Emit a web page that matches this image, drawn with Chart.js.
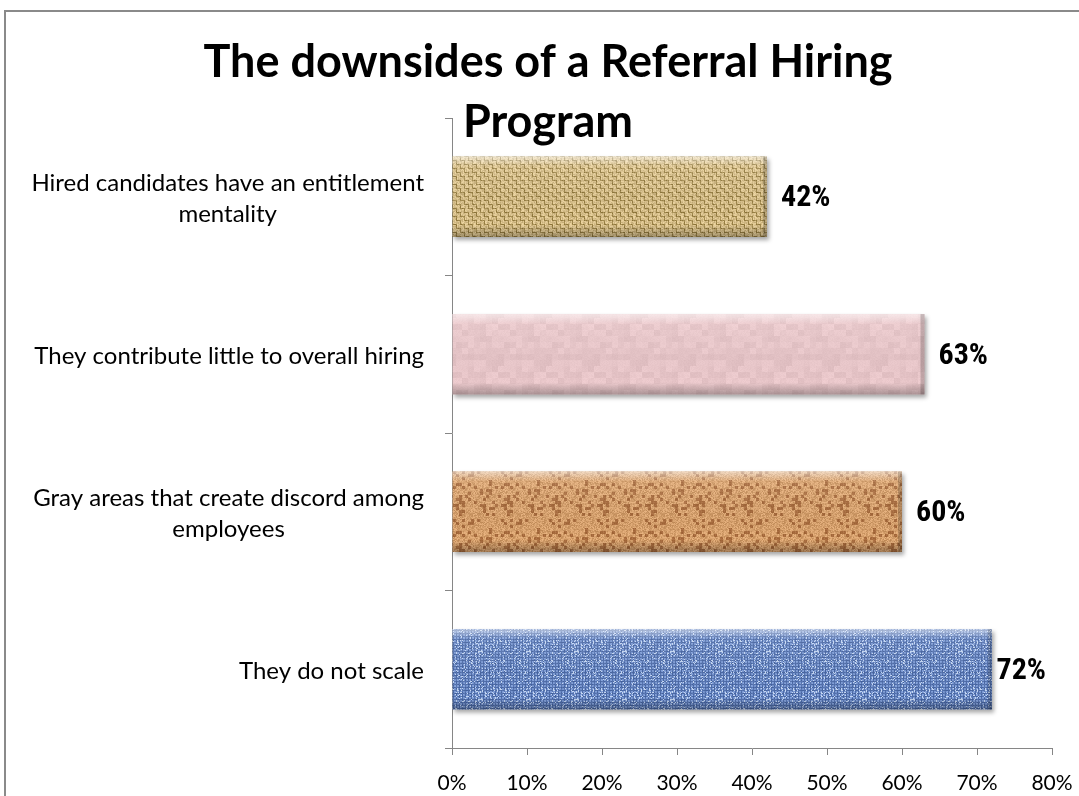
<!DOCTYPE html>
<html lang="en">
<head>
  <meta charset="UTF-8" />
  <title>The downsides of a Referral Hiring Program</title>
  <script src="https://cdn.jsdelivr.net/npm/chart.js"></script>
  <style>
    html, body { margin: 0; padding: 0; background: #fff; overflow: hidden; }
    canvas { display: block; }
  </style>
</head>
<body>
  <canvas id="grafico" width="1079" height="796"></canvas>

  <script>
    // data
    const categorias = [
      ['Hired candidates have an entitlement', 'mentality'],
      ['They contribute little to overall hiring'],
      ['Gray areas that create discord among', 'employees'],
      ['They do not scale']
    ];
    const valores = [42, 63, 60, 72];
    const ticksX = [0, 10, 20, 30, 40, 50, 60, 70, 80];
    const titulo = ['The downsides of a Referral Hiring', 'Program'];

    const fuente = "Lato, 'Open Sans', sans-serif";
    const fuenteNum = "'Liberation Sans Narrow', 'Arial Narrow', 'Roboto Condensed', 'Liberation Sans', sans-serif";

    // deterministic hash noise for the fabric textures
    function ruido(x, y, s) {
      const v = Math.sin(x * 12.9898 + y * 78.233 + s * 37.719) * 43758.5453;
      return v - Math.floor(v);
    }

    function textura(w, h, fn) {
      const c = document.createElement('canvas');
      c.width = w; c.height = h;
      const cx = c.getContext('2d');
      const img = cx.createImageData(w, h);
      for (let y = 0; y < h; y++) {
        for (let x = 0; x < w; x++) {
          const [r, g, b] = fn(x, y);
          const i = (y * w + x) * 4;
          img.data[i] = Math.max(0, Math.min(255, r));
          img.data[i + 1] = Math.max(0, Math.min(255, g));
          img.data[i + 2] = Math.max(0, Math.min(255, b));
          img.data[i + 3] = 255;
        }
      }
      cx.putImageData(img, 0, 0);
      return document.getElementById('grafico').getContext('2d').createPattern(c, 'repeat');
    }

    const arpillera = textura(48, 48, (x, y) => {
      const cx = Math.floor(x / 4), cy = Math.floor(y / 4);
      let d;
      if ((cx + cy) % 2 === 0) d = (x % 4 === 0) ? -50 : 14;
      else d = (y % 4 === 0) ? -50 : 8;
      const n = ruido(x, y, 1) * 40 - 20;
      return [206 + d + n, 182 + d + n, 128 + d * 1.1 + n];
    });

    const rosa = textura(48, 48, (x, y) => {
      const n = ruido(Math.floor(x / 6), Math.floor(y / 6), 2) * 14 - 7 + ruido(x, y, 3) * 6 - 3;
      return [232 + n, 198 + n, 201 + n];
    });

    const corcho = textura(48, 48, (x, y) => {
      const n = ruido(x, y, 4) * 44 - 22;
      if (ruido(Math.floor(x / 3), Math.floor(y / 3), 5) > 0.82) return [168 + n * 0.5, 108 + n * 0.5, 62 + n * 0.5];
      return [214 + n, 160 + n, 108 + n];
    });

    const mezclilla = textura(48, 48, (x, y) => {
      const n = ruido(x, y, 6);
      if (n > 0.88) return [196, 214, 242];
      if (x % 3 === 0 || y % 3 === 0) return [66 + n * 30, 96 + n * 30, 156 + n * 30];
      return [112 + n * 30, 142 + n * 30, 200 + n * 30];
    });

    const fondos = [arpillera, rosa, corcho, mezclilla];

    // page border, title, bevel, shadow, value labels, wrapped category labels
    const decorado = {
      id: 'decorado',
      beforeDraw(chart) {
        const ctx = chart.ctx;
        ctx.save();
        ctx.strokeStyle = '#8a8a8a';
        ctx.lineWidth = 2;
        ctx.strokeRect(5, 11, 2000, 2000);
        ctx.restore();
      },
      beforeDatasetsDraw(chart) {
        const ctx = chart.ctx;
        ctx.save();
        ctx.shadowColor = 'rgba(0,0,0,0.35)';
        ctx.shadowOffsetX = 2;
        ctx.shadowOffsetY = 3;
        ctx.shadowBlur = 4;
      },
      afterDatasetsDraw(chart) {
        const ctx = chart.ctx;
        ctx.restore();
        const meta = chart.getDatasetMeta(0);
        const area = chart.chartArea;
        meta.data.forEach((bar, i) => {
          const p = bar.getProps(['x', 'y', 'base', 'height'], true);
          const top = p.y - p.height / 2, left = p.base, w = p.x - p.base, h = p.height;
          ctx.save();
          const g = ctx.createLinearGradient(0, top, 0, top + h);
          g.addColorStop(0, 'rgba(255,255,255,0.55)');
          g.addColorStop(0.12, 'rgba(255,255,255,0.08)');
          g.addColorStop(0.85, 'rgba(0,0,0,0)');
          g.addColorStop(1, 'rgba(0,0,0,0.28)');
          ctx.fillStyle = g;
          ctx.fillRect(left, top, w, h);
          ctx.fillStyle = 'rgba(0,0,0,0.18)';
          ctx.fillRect(p.x - 4, top, 4, h);
          ctx.restore();

          ctx.save();
          ctx.font = 'bold 30px ' + fuenteNum;
          ctx.fillStyle = '#000';
          ctx.textBaseline = 'middle';
          const txt = valores[i] + '%';
          const tw = ctx.measureText(txt).width;
          const lx = Math.min(p.x + 14, area.right - 6 - tw);
          ctx.fillText(txt, lx, p.y + 2);
          ctx.restore();
        });

        const yScale = chart.scales.y;
        ctx.save();
        ctx.font = '24px ' + fuente;
        ctx.fillStyle = '#000';
        ctx.textBaseline = 'middle';
        ctx.textAlign = 'center';
        const lh = 31;
        categorias.forEach((lineas, i) => {
          const cy = yScale.getPixelForTick(i);
          const ancho = Math.max(...lineas.map(l => ctx.measureText(l).width));
          const centro = area.left - 28 - ancho / 2;
          lineas.forEach((l, k) => {
            ctx.fillText(l, centro, cy + (k - (lineas.length - 1) / 2) * lh + 2);
          });
        });
        ctx.restore();
      },
      afterDraw(chart) {
        const ctx = chart.ctx;
        ctx.save();
        ctx.font = 'bold 45px ' + fuente;
        ctx.fillStyle = '#000';
        ctx.textAlign = 'center';
        ctx.textBaseline = 'middle';
        titulo.forEach((l, k) => ctx.fillText(l, 548, 62 + k * 60));
        ctx.restore();
      }
    };

    new Chart(document.getElementById('grafico').getContext('2d'), {
      type: 'bar',
      data: {
        labels: categorias,
        datasets: [{
          data: valores,
          backgroundColor: fondos,
          borderWidth: 0,
          barPercentage: 0.51,
          categoryPercentage: 1
        }]
      },
      options: {
        indexAxis: 'y',
        responsive: false,
        animation: false,
        devicePixelRatio: 1,
        layout: { padding: { left: 0, right: 27, top: 118, bottom: 0 } },
        plugins: {
          legend: { display: false },
          tooltip: { enabled: false },
          title: { display: false }
        },
        scales: {
          x: {
            min: 0,
            max: 80,
            afterBuildTicks(scale) { scale.ticks = ticksX.map(v => ({ value: v })); },
            afterFit(scale) {
              scale.height = 48;
              scale.paddingLeft = 0;
              scale.paddingRight = 0;
            },
            border: { color: '#868686', width: 1 },
            grid: { drawOnChartArea: false, drawTicks: true, tickLength: 7, color: '#868686' },
            ticks: {
              color: '#000',
              padding: 16,
              font: { family: fuente, size: 21 },
              callback: v => v + '%'
            }
          },
          y: {
            afterFit(scale) {
              scale.width = 452;
              scale.paddingTop = 0;
              scale.paddingBottom = 0;
            },
            border: { color: '#868686', width: 1 },
            grid: { drawOnChartArea: false, drawTicks: true, tickLength: 7, color: '#868686', offset: true },
            ticks: { display: false }
          }
        }
      },
      plugins: [decorado]
    });
  </script>
</body>
</html>
